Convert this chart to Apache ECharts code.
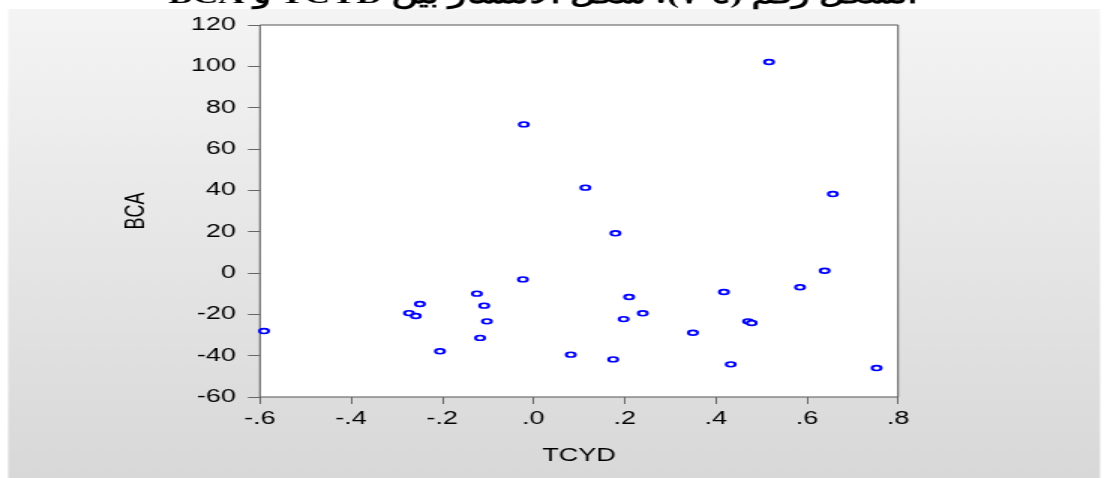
<!DOCTYPE html>
<html>
<head>
<meta charset="utf-8">
<script src="https://cdn.jsdelivr.net/npm/echarts@6/dist/echarts.min.js"></script>
<style>
  html, body { margin: 0; padding: 0; background: #ffffff; overflow: hidden; }
  #wrap { width: 1107px; height: 478px; position: relative; overflow: hidden; }
  #chart { width: 738px; height: 478px; transform: scaleX(1.5); transform-origin: 0 0; position: absolute; left: 0; top: 0; }
</style>
</head>
<body>
<div id="wrap"><div id="chart"></div></div>
<script>
// ---- data ----
var tcyd = [-0.591, -0.273, -0.258, -0.249, -0.205, -0.124, -0.108, -0.102, -0.117, -0.021,
            -0.023, 0.082, 0.114, 0.175, 0.180, 0.198, 0.210, 0.240, 0.350, 0.418,
            0.433, 0.471, 0.479, 0.517, 0.585, 0.639, 0.657, 0.753];
var bca  = [-28.1, -19.4, -20.8, -15.0, -37.9, -10.0, -15.8, -23.4, -31.4, 71.9,
            -3.1, -39.5, 41.3, -41.8, 19.2, -22.3, -11.6, -19.5, -28.9, -9.2,
            -44.2, -23.4, -24.2, 102.1, -6.9, 1.1, 38.2, -46.0];
var xTicks = [-0.6, -0.4, -0.2, 0.0, 0.2, 0.4, 0.6, 0.8];
var yTicks = [-60, -40, -20, 0, 20, 40, 60, 80, 100, 120];
var xName = 'TCYD';
var yName = 'BCA';
var titleText = '\u202B' + 'الشكل رقم (٤-٧): شكل الانتشار بين TCYD و BCA' + '\u202C';

var points = tcyd.map(function (x, i) { return [x, bca[i]]; });

function fmtX(v) {
  var r = Math.round(v * 10);
  return (r < 0 ? '-' : '') + '.' + Math.abs(r);
}

var chart = echarts.init(document.getElementById('chart'));
var labelFont = { color: '#000000', fontFamily: '"Liberation Sans", Arial, sans-serif', fontSize: 18 };

chart.setOption({
  animation: false,
  backgroundColor: 'transparent',
  graphic: [
    {
      type: 'rect', z: -10, silent: true,
      shape: { x: 5.4, y: 9, width: 728, height: 470 },
      style: {
        fill: {
          type: 'linear', x: 0, y: 0, x2: 0, y2: 1,
          colorStops: [{ offset: 0, color: '#f4f4f4' }, { offset: 1, color: '#d8d8d8' }]
        }
      }
    },
    {
      type: 'text', z: -8, silent: true,
      x: 362, y: -3,
      style: {
        text: titleText,
        font: 'bold 24px "Liberation Serif", "DejaVu Serif", serif',
        fill: '#000000',
        align: 'center',
        verticalAlign: 'middle'
      }
    }
  ],
  grid: {
    left: 173.3, right: 139.3, top: 25, bottom: 81,
    show: true, backgroundColor: '#ffffff', borderColor: '#555555', borderWidth: 1
  },
  xAxis: {
    type: 'value',
    min: xTicks[0], max: xTicks[xTicks.length - 1], interval: 0.2,
    name: xName, nameLocation: 'middle', nameGap: 50,
    nameTextStyle: labelFont,
    axisLine: { show: false, onZero: false },
    axisTick: { show: true, length: 7, lineStyle: { color: '#666666' } },
    splitLine: { show: false },
    axisLabel: Object.assign({ margin: 13, formatter: fmtX }, labelFont)
  },
  yAxis: {
    type: 'value',
    min: yTicks[0], max: yTicks[yTicks.length - 1], interval: 20,
    name: yName, nameLocation: 'middle', nameGap: 73, nameRotate: 90,
    nameTextStyle: labelFont,
    axisLine: { show: false, onZero: false },
    axisTick: { show: true, length: 8, lineStyle: { color: '#666666' } },
    splitLine: { show: false },
    axisLabel: Object.assign({ margin: 16 }, labelFont)
  },
  series: [{
    type: 'scatter',
    data: points,
    symbol: 'circle',
    symbolSize: [6, 4.8],
    itemStyle: { color: '#ffffff', borderColor: '#0000ff', borderWidth: 1.8, opacity: 1 }
  }]
});
</script>
</body>
</html>
